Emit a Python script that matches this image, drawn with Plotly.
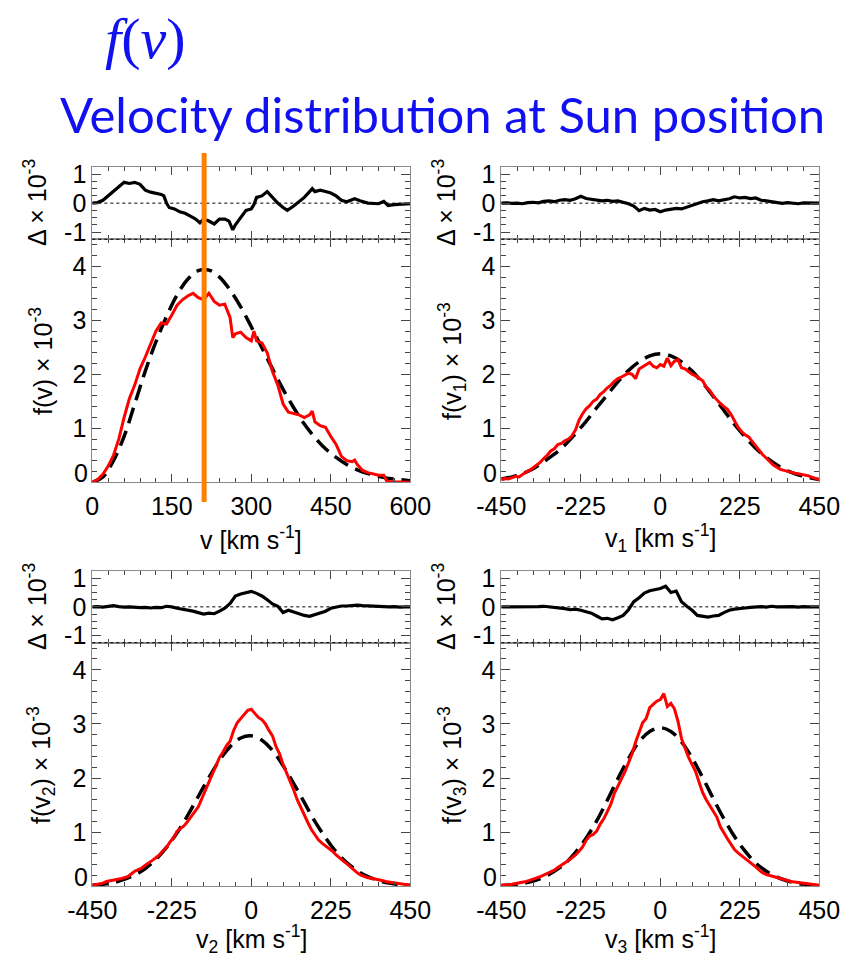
import plotly.graph_objects as go

W, H = 854, 956

# ---------------- data (units 1e-3) ----------------
# Panel A : f(v), speed
v_red = [0, 10, 20, 30, 40, 50, 60, 70, 80, 90, 100, 110, 120, 130, 140, 150, 160, 170, 180, 190,
         200, 210, 220, 230, 240, 250, 260, 265, 270, 280, 290, 300, 305, 310, 320, 330, 340, 350,
         360, 370, 380, 390, 400, 410, 415, 420, 430, 440, 450, 460, 470, 480, 490, 495, 500, 510,
         520, 530, 540, 550, 555, 560, 580, 600]
f_red = [0.00, 0.05, 0.15, 0.30, 0.50, 0.80, 1.20, 1.55, 1.80, 2.10, 2.32, 2.55, 2.80, 2.95, 2.93,
         3.10, 3.28, 3.38, 3.45, 3.50, 3.42, 3.38, 3.50, 3.35, 3.28, 3.30, 3.05, 2.68, 2.75, 2.78,
         2.68, 2.62, 2.80, 2.62, 2.58, 2.40, 2.05, 1.80, 1.45, 1.30, 1.27, 1.25, 1.20, 1.25, 1.32,
         1.12, 1.05, 1.02, 0.85, 0.70, 0.48, 0.40, 0.38, 0.41, 0.33, 0.22, 0.18, 0.16, 0.13, 0.13,
         0.03, 0.01, 0.00, 0.00]
v_mod = [0, 20, 40, 60, 80, 100, 120, 140, 160, 180, 200, 220, 240, 260, 280, 300, 320, 340, 360,
         380, 400, 420, 440, 460, 480, 500, 520, 540, 560, 580, 600]
f_mod = [0.00, 0.10, 0.40, 0.85, 1.45, 2.06, 2.60, 3.07, 3.47, 3.76, 3.92, 3.93, 3.80, 3.56, 3.25,
         2.88, 2.49, 2.10, 1.72, 1.38, 1.08, 0.83, 0.62, 0.46, 0.33, 0.23, 0.16, 0.11, 0.07, 0.05, 0.03]
v_res = [0, 10, 20, 30, 40, 50, 60, 70, 80, 90, 100, 110, 120, 130, 135, 140, 145, 155, 165, 175,
         185, 195, 203, 210, 220, 230, 240, 250, 258, 265, 270, 280, 290, 300, 305, 310, 320, 330,
         340, 350, 360, 368, 380, 390, 400, 410, 415, 420, 430, 440, 450, 460, 470, 480, 490, 495,
         505, 520, 540, 550, 558, 570, 600]
d_res = [0.00, 0.02, 0.10, 0.25, 0.40, 0.55, 0.72, 0.68, 0.72, 0.65, 0.45, 0.38, 0.34, 0.30, 0.25,
         0.00, -0.15, -0.20, -0.30, -0.35, -0.45, -0.55, -0.68, -0.55, -0.62, -0.72, -0.55, -0.55,
         -0.62, -0.92, -0.75, -0.50, -0.25, -0.20, -0.05, 0.20, 0.25, 0.40, 0.20, 0.00, -0.15, -0.25,
         -0.10, 0.05, 0.20, 0.40, 0.50, 0.40, 0.45, 0.40, 0.35, 0.25, 0.10, 0.05, 0.10, 0.15, 0.08,
         0.00, -0.02, 0.06, -0.08, -0.05, -0.02]

# Panels B, C, D : velocity components
v_comp = [-450, -440, -430, -420, -410, -400, -390, -380, -370, -360, -350, -340, -330, -320, -310,
          -300, -290, -280, -270, -260, -250, -240, -230, -220, -210, -200, -190, -180, -170, -160,
          -150, -140, -130, -120, -110, -100, -90, -80, -70, -60, -50, -40, -30, -20, -10, 0, 10,
          20, 30, 40, 50, 60, 70, 80, 90, 100, 110, 120, 130, 140, 150, 160, 170, 180, 190, 200,
          210, 220, 230, 240, 250, 260, 270, 280, 290, 300, 310, 320, 330, 340, 350, 360, 370, 380,
          390, 400, 410, 420, 430, 440, 450]
f1_red = [0.05, 0.07, 0.06, 0.09, 0.11, 0.10, 0.15, 0.19, 0.22, 0.27, 0.31, 0.37, 0.44, 0.50, 0.58,
          0.62, 0.70, 0.72, 0.77, 0.80, 0.86, 0.97, 1.15, 1.27, 1.36, 1.42, 1.50, 1.54, 1.63, 1.68,
          1.75, 1.80, 1.87, 1.92, 1.95, 1.98, 2.02, 2.00, 1.92, 2.10, 2.14, 2.18, 2.22, 2.15, 2.12,
          2.18, 2.15, 2.30, 2.16, 2.24, 2.27, 2.12, 2.10, 2.05, 2.00, 1.97, 1.93, 1.88, 1.76, 1.70,
          1.60, 1.52, 1.46, 1.40, 1.35, 1.26, 1.14, 1.02, 0.94, 0.88, 0.84, 0.75, 0.68, 0.59, 0.51,
          0.44, 0.38, 0.32, 0.28, 0.24, 0.22, 0.20, 0.19, 0.17, 0.16, 0.15, 0.13, 0.12, 0.09, 0.07, 0.05]
f2_red = [0.02, 0.03, 0.05, 0.06, 0.09, 0.10, 0.12, 0.12, 0.14, 0.16, 0.18, 0.23, 0.28, 0.31, 0.34,
          0.39, 0.43, 0.48, 0.53, 0.58, 0.66, 0.72, 0.82, 0.90, 1.02, 1.07, 1.12, 1.20, 1.28, 1.38,
          1.47, 1.62, 1.78, 1.95, 2.10, 2.25, 2.38, 2.48, 2.60, 2.68, 2.88, 3.02, 3.10, 3.18, 3.25,
          3.27, 3.20, 3.12, 3.08, 3.00, 2.88, 2.78, 2.58, 2.45, 2.25, 2.10, 1.93, 1.78, 1.60, 1.45,
          1.30, 1.18, 1.05, 0.95, 0.86, 0.80, 0.75, 0.70, 0.65, 0.58, 0.52, 0.47, 0.42, 0.36, 0.30,
          0.25, 0.21, 0.18, 0.16, 0.15, 0.14, 0.13, 0.11, 0.09, 0.08, 0.07, 0.06, 0.05, 0.04, 0.03, 0.02]
f3_red = [0.02, 0.02, 0.03, 0.04, 0.05, 0.06, 0.08, 0.09, 0.11, 0.13, 0.15, 0.18, 0.21, 0.24, 0.27,
          0.30, 0.35, 0.39, 0.43, 0.48, 0.53, 0.58, 0.65, 0.73, 0.85, 0.93, 0.96, 1.02, 1.15, 1.25,
          1.38, 1.52, 1.72, 1.85, 1.96, 2.12, 2.28, 2.45, 2.66, 2.85, 3.02, 3.10, 3.30, 3.36, 3.42,
          3.45, 3.56, 3.32, 3.38, 3.28, 3.05, 2.73, 2.55, 2.38, 2.25, 2.12, 1.92, 1.73, 1.60, 1.50,
          1.40, 1.28, 1.10, 0.98, 0.88, 0.78, 0.68, 0.62, 0.57, 0.52, 0.46, 0.41, 0.36, 0.30, 0.25,
          0.22, 0.20, 0.18, 0.16, 0.14, 0.12, 0.11, 0.09, 0.08, 0.07, 0.06, 0.05, 0.04, 0.03, 0.02, 0.02]

v_cmod = [-450, -420, -390, -360, -330, -300, -270, -240, -210, -180, -150, -120, -90, -60, -30, 0,
          30, 60, 90, 120, 150, 180, 210, 240, 270, 300, 330, 360, 390, 420, 450]
f1_mod = [0.06, 0.10, 0.16, 0.25, 0.38, 0.52, 0.69, 0.90, 1.13, 1.38, 1.62, 1.86, 2.07, 2.23, 2.34,
          2.38, 2.34, 2.23, 2.06, 1.84, 1.59, 1.33, 1.07, 0.84, 0.63, 0.46, 0.32, 0.21, 0.14, 0.09, 0.05]
f2_mod = [0.02, 0.04, 0.07, 0.13, 0.21, 0.33, 0.50, 0.72, 0.99, 1.31, 1.66, 2.01, 2.33, 2.58, 2.74,
          2.78, 2.70, 2.51, 2.23, 1.90, 1.55, 1.20, 0.90, 0.64, 0.44, 0.29, 0.18, 0.11, 0.06, 0.03, 0.02]
f3_mod = [0.015, 0.03, 0.055, 0.10, 0.17, 0.28, 0.42, 0.63, 0.89, 1.21, 1.59, 1.99, 2.36, 2.67, 2.86,
          2.93, 2.86, 2.67, 2.37, 2.01, 1.62, 1.25, 0.92, 0.65, 0.43, 0.28, 0.17, 0.10, 0.055, 0.03, 0.015]

v_cres = [-450, -435, -420, -405, -390, -375, -360, -345, -330, -315, -300, -285, -270, -255, -240,
          -225, -210, -195, -180, -165, -150, -135, -120, -105, -90, -75, -60, -45, -30, -15, 0,
          15, 30, 45, 60, 75, 90, 105, 120, 135, 150, 165, 180, 195, 210, 225, 240, 255, 270, 285,
          300, 315, 330, 345, 360, 375, 390, 405, 420, 435, 450]
d1_res = [0.00, 0.01, -0.01, 0.00, -0.02, 0.02, 0.03, 0.01, 0.06, 0.08, 0.05, 0.10, 0.12, 0.10, 0.15,
          0.24, 0.16, 0.14, 0.12, 0.08, 0.10, 0.06, 0.08, 0.03, -0.02, -0.10, -0.26, -0.18, -0.24,
          -0.22, -0.30, -0.24, -0.22, -0.18, -0.20, -0.14, -0.06, 0.00, 0.05, 0.08, 0.12, 0.08, 0.12,
          0.15, 0.22, 0.18, 0.20, 0.16, 0.18, 0.10, 0.08, 0.05, 0.02, -0.01, 0.02, 0.00, -0.02, 0.01,
          0.00, 0.01, 0.00]
d2_res = [0.00, 0.01, -0.01, 0.01, 0.04, 0.01, -0.01, 0.00, -0.02, -0.03, -0.02, -0.04, -0.02, -0.03,
          0.02, 0.00, -0.05, -0.08, -0.10, -0.15, -0.20, -0.25, -0.22, -0.24, -0.15, -0.05, 0.12,
          0.38, 0.45, 0.50, 0.54, 0.47, 0.38, 0.25, 0.10, 0.02, -0.20, -0.12, -0.18, -0.26, -0.30,
          -0.33, -0.27, -0.22, -0.15, -0.05, 0.00, 0.03, 0.03, 0.05, 0.06, 0.04, 0.03, 0.02, 0.01,
          0.02, 0.00, 0.01, -0.01, 0.00, 0.00]
d3_res = [0.00, 0.00, 0.01, 0.00, -0.01, 0.01, 0.00, 0.01, 0.02, 0.00, -0.01, -0.03, -0.06, -0.10,
          -0.08, -0.12, -0.16, -0.22, -0.32, -0.42, -0.40, -0.45, -0.38, -0.30, -0.10, 0.18, 0.32,
          0.48, 0.56, 0.60, 0.64, 0.72, 0.50, 0.55, 0.18, 0.02, -0.12, -0.30, -0.34, -0.36, -0.32,
          -0.30, -0.20, -0.12, -0.08, -0.05, -0.04, -0.02, 0.00, 0.01, -0.01, 0.02, 0.00, 0.01, 0.00,
          0.01, -0.01, 0.01, 0.00, 0.01, 0.00]

ticks_speed = [0, 150, 300, 450, 600]
ticks_comp = [-450, -225, 0, 225, 450]
ticks_main = [0, 1, 2, 3, 4]
ticks_res = [-1, 0, 1]

V_MARK = 211  # orange marker on panel A

# ---------------- layout helpers ----------------
def px_x(p):
    return p / W

def px_y(p):
    return 1 - p / H

XL = [px_x(92.3), px_x(410.3)]
XR = [px_x(501.3), px_x(819.3)]
Y_RES_T = [px_y(239.3), px_y(167)]
Y_MAIN_T = [px_y(482.3), px_y(239.3)]
Y_RES_B = [px_y(642.7), px_y(571)]
Y_MAIN_B = [px_y(886.4), px_y(642.7)]

FAM = "Liberation Sans"
TICKFONT = dict(family=FAM, size=25, color="black")
FRAME = "#8a8a8a"
TICKC = "#444444"

def lab(v):
    return str(v)  # plain hyphen-minus like the reference

def xaxis(domain, rng, tickvals, labels, anchor):
    step = tickvals[1] - tickvals[0]
    return dict(domain=domain, range=rng, anchor=anchor, showline=True, linecolor=FRAME,
                linewidth=1, mirror="allticks", ticks="inside", ticklen=8, tickwidth=1,
                tickcolor=TICKC, tickmode="array", tickvals=tickvals,
                ticktext=[lab(t) for t in tickvals], ticklabelstandoff=2,
                showticklabels=labels, tickfont=TICKFONT, showgrid=False, zeroline=False,
                minor=dict(ticks="inside", ticklen=4, tickcolor=TICKC, tickmode="linear",
                           tick0=tickvals[0], dtick=step / 5, showgrid=False),
                fixedrange=True)

def yaxis_main(domain, anchor):
    return dict(domain=domain, range=[0, 4.5], anchor=anchor, showline=True, linecolor=FRAME,
                linewidth=1, mirror="allticks", ticks="inside", ticklen=9, tickwidth=1,
                tickcolor=TICKC, tickmode="array", tickvals=ticks_main,
                ticktext=[""] + [lab(t) for t in ticks_main[1:]], tickfont=TICKFONT,
                showgrid=False, zeroline=False,
                minor=dict(ticks="inside", ticklen=5, tickcolor=TICKC, tickmode="linear",
                           tick0=0, dtick=0.2, showgrid=False),
                fixedrange=True)

def yaxis_res(domain, anchor):
    return dict(domain=domain, range=[-1.25, 1.25], anchor=anchor, showline=True,
                linecolor=FRAME, linewidth=1, mirror="allticks", ticks="inside", ticklen=9,
                tickwidth=1, tickcolor=TICKC, tickmode="array", tickvals=ticks_res,
                ticktext=[lab(t) for t in ticks_res], tickfont=TICKFONT, showgrid=False,
                zeroline=False,
                minor=dict(ticks="inside", ticklen=5, tickcolor=TICKC, tickmode="linear",
                           tick0=0, dtick=0.25, showgrid=False),
                fixedrange=True)

fig = go.Figure()

RED = dict(color="#ff0000", width=3)
DASH = dict(color="black", width=3.5, dash="16px,8px")
RESL = dict(color="black", width=3.2)

panels = [
    ("x", "y", "x2", "y2", v_red, f_red, v_mod, f_mod, v_res, d_res),
    ("x3", "y3", "x4", "y4", v_comp, f1_red, v_cmod, f1_mod, v_cres, d1_res),
    ("x5", "y5", "x6", "y6", v_comp, f2_red, v_cmod, f2_mod, v_cres, d2_res),
    ("x7", "y7", "x8", "y8", v_comp, f3_red, v_cmod, f3_mod, v_cres, d3_res),
]

shapes = []
for rx, ry, mx, my, xr, yr, xm, ym, xs, ys in panels:
    fig.add_trace(go.Scatter(x=xm, y=ym, mode="lines", line=DASH, line_shape="spline",
                             xaxis=mx, yaxis=my, hoverinfo="skip"))
    fig.add_trace(go.Scatter(x=xr, y=yr, mode="lines", line=RED, xaxis=mx, yaxis=my,
                             hoverinfo="skip"))
    fig.add_trace(go.Scatter(x=xs, y=ys, mode="lines", line=RESL, xaxis=rx, yaxis=ry,
                             hoverinfo="skip"))
    shapes.append(dict(type="line", xref=f"{rx} domain", x0=0, x1=1, yref=ry, y0=0, y1=0,
                       line=dict(color="black", width=1, dash="dot"), layer="below"))
    shapes.append(dict(type="line", xref=f"{rx} domain", x0=0, x1=1, yref=f"{ry} domain",
                       y0=0, y1=0, line=dict(color="black", width=1, dash="dot")))

shapes.append(dict(type="line", xref="x2", x0=V_MARK, x1=V_MARK, yref="paper",
                   y0=px_y(502), y1=px_y(153), line=dict(color="#ff8000", width=5)))

layout = dict(
    width=W, height=H, margin=dict(l=0, r=0, t=0, b=0, autoexpand=False),
    paper_bgcolor="white", plot_bgcolor="white", showlegend=False, shapes=shapes,
    xaxis=xaxis(XL, [0, 600], ticks_speed, False, "y"),
    yaxis=yaxis_res(Y_RES_T, "x"),
    xaxis2=xaxis(XL, [0, 600], ticks_speed, True, "y2"),
    yaxis2=yaxis_main(Y_MAIN_T, "x2"),
    xaxis3=xaxis(XR, [-450, 450], ticks_comp, False, "y3"),
    yaxis3=yaxis_res(Y_RES_T, "x3"),
    xaxis4=xaxis(XR, [-450, 450], ticks_comp, True, "y4"),
    yaxis4=yaxis_main(Y_MAIN_T, "x4"),
    xaxis5=xaxis(XL, [-450, 450], ticks_comp, False, "y5"),
    yaxis5=yaxis_res(Y_RES_B, "x5"),
    xaxis6=xaxis(XL, [-450, 450], ticks_comp, True, "y6"),
    yaxis6=yaxis_main(Y_MAIN_B, "x6"),
    xaxis7=xaxis(XR, [-450, 450], ticks_comp, False, "y7"),
    yaxis7=yaxis_res(Y_RES_B, "x7"),
    xaxis8=xaxis(XR, [-450, 450], ticks_comp, True, "y8"),
    yaxis8=yaxis_main(Y_MAIN_B, "x8"),
)

ann = []
LBL = dict(family=FAM, size=25, color="black")

for my, x0 in [("y2", XL[0]), ("y4", XR[0]), ("y6", XL[0]), ("y8", XR[0])]:
    ann.append(dict(text=lab(ticks_main[0]), xref="paper", x=x0, xanchor="right", xshift=-2,
                    yref=my, y=0.17, yanchor="middle", showarrow=False, font=LBL))

def ytitle(text, xpix, ypix):
    ann.append(dict(text=text, xref="paper", yref="paper", x=px_x(xpix), y=px_y(ypix),
                    xanchor="center", yanchor="middle", textangle=-90, showarrow=False, font=LBL))

def xtitle(text, xpix, ypix):
    ann.append(dict(text=text, xref="paper", yref="paper", x=px_x(xpix), y=px_y(ypix),
                    xanchor="center", yanchor="middle", showarrow=False, font=LBL))

DELTA = "Δ × 10<sup>-3</sup>"
ytitle(DELTA, 35, 203)
ytitle(DELTA, 444, 203)
ytitle(DELTA, 35, 607)
ytitle(DELTA, 444, 607)
ytitle("f(v) × 10<sup>-3</sup>", 41, 361)
ytitle("f(v<sub>1</sub>) × 10<sup>-3</sup>", 452, 361)
ytitle("f(v<sub>2</sub>) × 10<sup>-3</sup>", 41, 765)
ytitle("f(v<sub>3</sub>) × 10<sup>-3</sup>", 452, 765)

xtitle("v [km s<sup>-1</sup>]", 251, 538)
xtitle("v<sub>1</sub> [km s<sup>-1</sup>]", 660, 538)
xtitle("v<sub>2</sub> [km s<sup>-1</sup>]", 251, 939)
xtitle("v<sub>3</sub> [km s<sup>-1</sup>]", 660, 939)

ann.append(dict(text="<i>f</i>(<i>v</i>)", xref="paper", yref="paper", x=px_x(145), y=px_y(38),
                xanchor="center", yanchor="middle", showarrow=False,
                font=dict(family="Liberation Serif", size=58, color="#1010f0")))
ann.append(dict(text="Velocity distribution at Sun position", xref="paper", yref="paper",
                x=px_x(442), y=px_y(114), xanchor="center", yanchor="middle", showarrow=False,
                font=dict(family="Lato", size=49, color="#1010f0")))

layout["annotations"] = ann
fig.update_layout(**layout)

fig.write_html("out.html")
